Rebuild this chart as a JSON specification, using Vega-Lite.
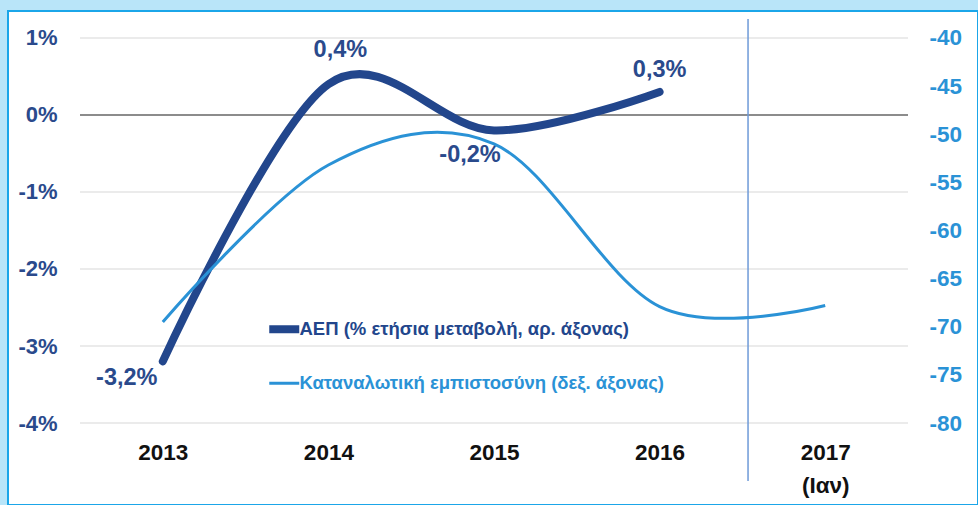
{
  "$schema": "https://vega.github.io/schema/vega-lite/v6.json",
  "width": 970,
  "height": 494,
  "autosize": {"type": "none"},
  "padding": {"left": 8, "top": 11, "right": 0, "bottom": 0},
  "background": "#B9E5F9",
  "config": {
    "view": {"fill": "white", "stroke": "#1BA6E9", "strokeWidth": 2},
    "font": "Liberation Sans",
    "axis": {"labelFont": "Liberation Sans", "labelFontWeight": "bold", "labelFontSize": 22, "domain": false, "ticks": false, "grid": false, "title": null, "labelOverlap": false, "labelBound": false, "labelFlush": false},
    "legend": {"labelFont": "Liberation Sans", "labelFontWeight": "bold", "labelFontSize": 18.5, "labelLimit": 600}
  },
  "datasets": {
    "gdp": [
      {"year": 2013, "value": -3.2, "label": "-3,2%", "series": "ΑΕΠ (% ετήσια μεταβολή, αρ. άξονας)"},
      {"year": 2014, "value": 0.4, "label": "0,4%", "series": "ΑΕΠ (% ετήσια μεταβολή, αρ. άξονας)"},
      {"year": 2015, "value": -0.2, "label": "-0,2%", "series": "ΑΕΠ (% ετήσια μεταβολή, αρ. άξονας)"},
      {"year": 2016, "value": 0.3, "label": "0,3%", "series": "ΑΕΠ (% ετήσια μεταβολή, αρ. άξονας)"}
    ],
    "conf": [
      {"year": 2013, "value": -69.5, "series": "Καταναλωτική εμπιστοσύνη (δεξ. άξονας)"},
      {"year": 2014, "value": -53.2, "series": "Καταναλωτική εμπιστοσύνη (δεξ. άξονας)"},
      {"year": 2015, "value": -51.0, "series": "Καταναλωτική εμπιστοσύνη (δεξ. άξονας)"},
      {"year": 2016, "value": -67.9, "series": "Καταναλωτική εμπιστοσύνη (δεξ. άξονας)"},
      {"year": 2017, "value": -67.8, "series": "Καταναλωτική εμπιστοσύνη (δεξ. άξονας)"}
    ],
    "grid": [{"pct": -4}, {"pct": -3}, {"pct": -2}, {"pct": -1}, {"pct": 1}]
  },
  "layer": [
    {
      "data": {"name": "grid"},
      "mark": {"type": "rule", "color": "#E4E4E4", "strokeWidth": 1.5},
      "encoding": {
        "y": {"field": "pct", "type": "quantitative", "scale": {"domain": [-5.0649, 1.3506], "nice": false, "zero": false},
          "axis": {"orient": "left", "offset": -72, "values": [-4, -3, -2, -1, 0, 1], "labelExpr": "datum.value + '%'", "labelPadding": 23, "labelColor": "#2A4A8C"}},
        "x": {"datum": 2012.5, "type": "quantitative", "scale": {"domain": [2012.0652, 2017.9227], "nice": false, "zero": false},
          "axis": {"orient": "bottom", "offset": -82, "title": null, "values": [2013, 2014, 2015, 2016, 2017], "labelExpr": "datum.value == 2017 ? ['2017', '(Ιαν)'] : '' + datum.value", "labelPadding": 18, "labelColor": "#111111", "labelLineHeight": 33, "labelFontSize": 22.5}},
        "x2": {"datum": 2017.5}
      }
    },
    {
      "data": {"values": [{"pct": 0}]},
      "mark": {"type": "rule", "color": "#8C8C8C", "strokeWidth": 2},
      "encoding": {
        "y": {"field": "pct", "type": "quantitative", "scale": {"domain": [-5.0649, 1.3506], "nice": false, "zero": false}, "axis": null},
        "x": {"datum": 2012.5, "type": "quantitative", "axis": {"title": null}},
        "x2": {"datum": 2017.5}
      }
    },
    {
      "data": {"values": [{"year": 2016.534, "top": 1.2468, "bottom": -4.753}]},
      "mark": {"type": "rule", "color": "#6E9AD8", "strokeWidth": 1.5},
      "encoding": {
        "x": {"field": "year", "type": "quantitative", "axis": {"title": null}},
        "y": {"field": "top", "type": "quantitative", "scale": {"domain": [-5.0649, 1.3506], "nice": false, "zero": false}, "axis": null},
        "y2": {"field": "bottom"}
      }
    },
    {
      "data": {"name": "gdp"},
      "mark": {"type": "line", "interpolate": "cardinal", "strokeWidth": 8, "strokeCap": "round", "strokeJoin": "round"},
      "encoding": {
        "x": {"field": "year", "type": "quantitative", "axis": {"title": null}},
        "y": {"field": "value", "type": "quantitative", "scale": {"domain": [-5.0649, 1.3506], "nice": false, "zero": false}, "axis": null},
        "color": {"field": "series", "type": "nominal",
          "scale": {"domain": ["ΑΕΠ (% ετήσια μεταβολή, αρ. άξονας)", "Καταναλωτική εμπιστοσύνη (δεξ. άξονας)"], "range": ["#22468C", "#2A92D6"]},
          "legend": {"orient": "none", "legendX": 267, "legendY": 309, "title": null, "symbolType": "stroke", "symbolSize": 900, "labelOffset": 6, "rowPadding": 28, "labelColor": {"expr": "datum.index == 0 ? '#22468C' : '#2A92D6'"}, "symbolStrokeWidth": {"expr": "datum.index == 0 ? 8 : 3"}}}
      }
    },
    {
      "data": {"name": "gdp"},
      "transform": [{"filter": "datum.year == 2013"}],
      "mark": {"type": "text", "fontSize": 23.5, "fontWeight": "bold", "color": "#2A4A8C", "dx": -36, "dy": 17},
      "encoding": {"x": {"field": "year", "type": "quantitative", "axis": {"title": null}}, "y": {"field": "value", "type": "quantitative", "scale": {"domain": [-5.0649, 1.3506], "nice": false, "zero": false}, "axis": null}, "text": {"field": "label"}}
    },
    {
      "data": {"name": "gdp"},
      "transform": [{"filter": "datum.year == 2014"}],
      "mark": {"type": "text", "fontSize": 23.5, "fontWeight": "bold", "color": "#2A4A8C", "dx": 12, "dy": -34},
      "encoding": {"x": {"field": "year", "type": "quantitative", "axis": {"title": null}}, "y": {"field": "value", "type": "quantitative", "scale": {"domain": [-5.0649, 1.3506], "nice": false, "zero": false}, "axis": null}, "text": {"field": "label"}}
    },
    {
      "data": {"name": "gdp"},
      "transform": [{"filter": "datum.year == 2015"}],
      "mark": {"type": "text", "fontSize": 23.5, "fontWeight": "bold", "color": "#2A4A8C", "dx": -24, "dy": 25},
      "encoding": {"x": {"field": "year", "type": "quantitative", "axis": {"title": null}}, "y": {"field": "value", "type": "quantitative", "scale": {"domain": [-5.0649, 1.3506], "nice": false, "zero": false}, "axis": null}, "text": {"field": "label"}}
    },
    {
      "data": {"name": "gdp"},
      "transform": [{"filter": "datum.year == 2016"}],
      "mark": {"type": "text", "fontSize": 23.5, "fontWeight": "bold", "color": "#2A4A8C", "dx": 0, "dy": -22},
      "encoding": {"x": {"field": "year", "type": "quantitative", "axis": {"title": null}}, "y": {"field": "value", "type": "quantitative", "scale": {"domain": [-5.0649, 1.3506], "nice": false, "zero": false}, "axis": null}, "text": {"field": "label"}}
    },
    {
      "data": {"name": "conf"},
      "mark": {"type": "line", "interpolate": "cardinal", "strokeWidth": 3},
      "encoding": {
        "x": {"field": "year", "type": "quantitative", "axis": {"title": null}},
        "y": {"field": "value", "type": "quantitative",
          "scale": {"domain": [-88.519, -37.195], "nice": false, "zero": false},
          "axis": {"orient": "right", "offset": -70, "values": [-80, -75, -70, -65, -60, -55, -50, -45, -40], "labelExpr": "'' + datum.value", "labelPadding": 21, "labelColor": "#2A92D6", "labelFontSize": 22.5}},
        "color": {"field": "series", "type": "nominal",
          "legend": {"orient": "none", "legendX": 267, "legendY": 309, "title": null, "symbolType": "stroke", "symbolSize": 900, "labelOffset": 6, "rowPadding": 28, "labelColor": {"expr": "datum.index == 0 ? '#22468C' : '#2A92D6'"}, "symbolStrokeWidth": {"expr": "datum.index == 0 ? 8 : 3"}}}
      }
    }
  ],
  "resolve": {"scale": {"y": "independent"}}
}
